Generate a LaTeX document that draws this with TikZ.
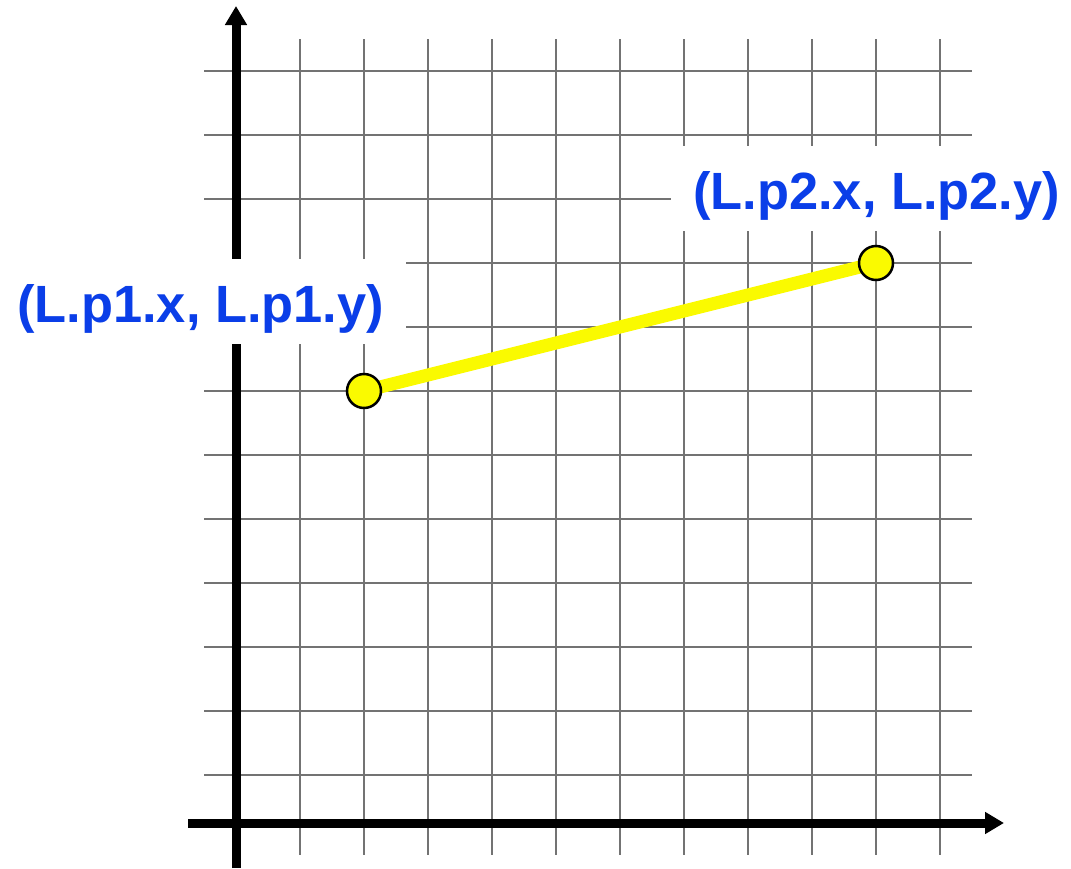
\documentclass[tikz,border=0pt]{standalone}
\usepackage{fontspec}
\setmainfont{Liberation Sans}
\usetikzlibrary{arrows.meta}
\definecolor{lblblue}{RGB}{10,62,232}
\definecolor{gridgray}{RGB}{115,115,115}
\definecolor{segyellow}{RGB}{250,250,0}
\begin{document}
\begin{tikzpicture}[x=1pt,y=-1pt,
  gridline/.style={draw=gridgray,line width=2.3pt},
  axis/.style={draw=black,line width=9pt,-{Triangle[width=21pt,length=19pt]}},
  coordlabel/.style={fill=white,text=lblblue,font=\bfseries\fontsize{52.4}{60}\selectfont,
    inner xsep=22pt,inner ysep=0pt,text height=63pt,text depth=22pt,anchor=base west},
  pt/.style={circle,draw=black,line width=2.5pt,fill=segyellow,minimum size=34pt,inner sep=0pt},
  seg/.style={draw=segyellow,line width=13pt}]
\useasboundingbox (0,0) rectangle (1071,868);
% grid
\foreach \x in {300,364,...,940} \draw[gridline] (\x,39) -- (\x,855);
\foreach \y in {71,135,...,775} \draw[gridline] (204,\y) -- (972,\y);
% axes
\coordinate (yb) at (236,868);
\coordinate (yt) at (236,6);
\coordinate (xl) at (188,823);
\coordinate (xr) at (1004,823);
\draw[axis] (yb) -- (yt);
\draw[axis] (xl) -- (xr);
% labels
\node[coordlabel] (lab1) at (-5,322) {(L.p1.x, L.p1.y)};
\node[coordlabel] (lab2) at (671,209) {(L.p2.x, L.p2.y)};
% segment
\coordinate (A) at (364,391);
\coordinate (B) at (876,263);
\draw[seg] (A) -- (B);
\node[pt] (p1) at (A) {};
\node[pt] (p2) at (B) {};
\end{tikzpicture}
\end{document}
